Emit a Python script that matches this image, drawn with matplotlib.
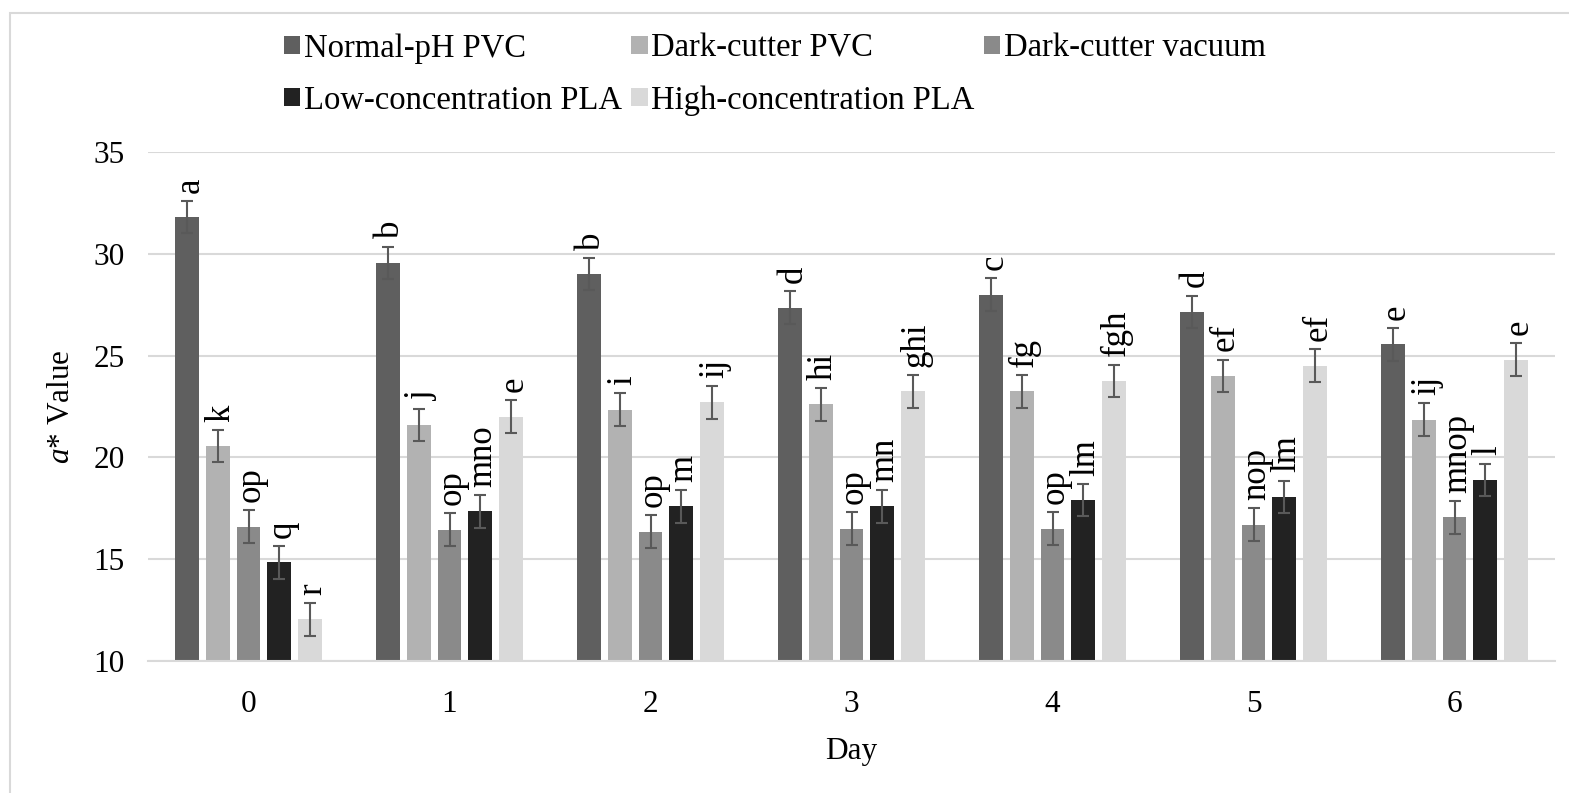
import numpy as np
import matplotlib
matplotlib.use("Agg")
from matplotlib import pyplot as plt
from matplotlib.patches import Rectangle

plt.rcParams['font.family'] = ['Liberation Serif', 'DejaVu Serif']
plt.rcParams['mathtext.fontset'] = 'custom'
plt.rcParams['mathtext.it'] = 'Liberation Serif:italic'
plt.rcParams['mathtext.rm'] = 'Liberation Serif'

days = ['0', '1', '2', '3', '4', '5', '6']
series_names = ['Normal-pH PVC', 'Dark-cutter PVC', 'Dark-cutter vacuum',
                'Low-concentration PLA', 'High-concentration PLA']
normal_pvc = [31.8, 29.55, 29.0, 27.35, 28.0, 27.15, 25.55]
dark_pvc = [20.55, 21.6, 22.35, 22.6, 23.25, 24.0, 21.85]
dark_vacuum = [16.6, 16.45, 16.35, 16.5, 16.5, 16.7, 17.05]
low_pla = [14.85, 17.35, 17.6, 17.6, 17.9, 18.05, 18.9]
high_pla = [12.05, 22.0, 22.7, 23.25, 23.75, 24.5, 24.8]
errors = [0.8, 0.8, 0.8, 0.8, 0.8, 0.8, 0.8]

letters_normal = ['a', 'b', 'b', 'd', 'c', 'd', 'e']
letters_dark_pvc = ['k', 'j', 'i', 'hi', 'fg', 'ef', 'ij']
letters_vacuum = ['op', 'op', 'op', 'op', 'op', 'nop', 'mnop']
letters_low = ['q', 'mno', 'm', 'mn', 'lm', 'lm', 'l']
letters_high = ['r', 'e', 'ij', 'ghi', 'fgh', 'ef', 'e']

colors = ['#5f5f5f', '#b2b2b2', '#8a8a8a', '#222222', '#d9d9d9']

all_values = [normal_pvc, dark_pvc, dark_vacuum, low_pla, high_pla]
all_letters = [letters_normal, letters_dark_pvc, letters_vacuum, letters_low, letters_high]

fig = plt.figure(figsize=(15.69, 7.93), dpi=100)
ax = fig.add_axes([148 / 1569, 1 - 661 / 793, (1555 - 148) / 1569, (661 - 152) / 793])

# outer frame of the chart area
fig.patches.append(Rectangle((10 / 1569, -0.05), 1.1, 1 - 13 / 793 + 0.05, transform=fig.transFigure,
                             fill=False, edgecolor='#d9d9d9', linewidth=1.5, clip_on=False))

x = np.arange(len(days))
slot = 0.1527
handles = []
for i, (vals, letters) in enumerate(zip(all_values, all_letters)):
    pos = x + (i - 2) * slot
    b = ax.bar(pos, vals, width=slot * 0.78, color=colors[i], zorder=2, label=series_names[i])
    handles.append(b)
    ax.errorbar(pos, vals, yerr=errors, fmt='none', ecolor='#595959', elinewidth=1.5,
                capsize=4, capthick=1.5, zorder=3)
    for px, v, e, lab in zip(pos, vals, errors, letters):
        ax.annotate(lab, (px, v + e), xytext=(2, 6), textcoords='offset points',
                    rotation=90, ha='center', va='bottom', fontsize=25)

ax.set_ylim(10, 35)
ax.set_xlim(-0.5, 6.5)
ax.set_yticks([10, 15, 20, 25, 30, 35])
ax.set_xticks(x)
ax.set_xticklabels(days)
ax.yaxis.grid(True, color='#d9d9d9', linewidth=1.5, zorder=0)
ax.set_axisbelow(True)
for s in ['top', 'right', 'left']:
    ax.spines[s].set_visible(False)
ax.spines['bottom'].set_color('#d9d9d9')
ax.spines['bottom'].set_linewidth(1.5)
ax.tick_params(axis='both', length=0, labelsize=22.5)
ax.tick_params(axis='y', pad=17)
ax.tick_params(axis='x', pad=21)

ax.set_ylabel('$a$* Value', fontsize=22.5, labelpad=12)
ax.set_xlabel('Day', fontsize=22.5, labelpad=13)

# legend fills column by column, so reorder to read row by row
order = [0, 3, 1, 4, 2]
fig.legend([handles[k] for k in order], [series_names[k] for k in order],
           loc='upper left', bbox_to_anchor=(284 / 1569, 1 - 33 / 793), ncol=3,
           frameon=False, fontsize=23.5, borderpad=0, handlelength=0.5, handleheight=0.5,
           handletextpad=0.1, columnspacing=0.3, labelspacing=0.66, borderaxespad=0)

fig.savefig('out.png', dpi=100)
